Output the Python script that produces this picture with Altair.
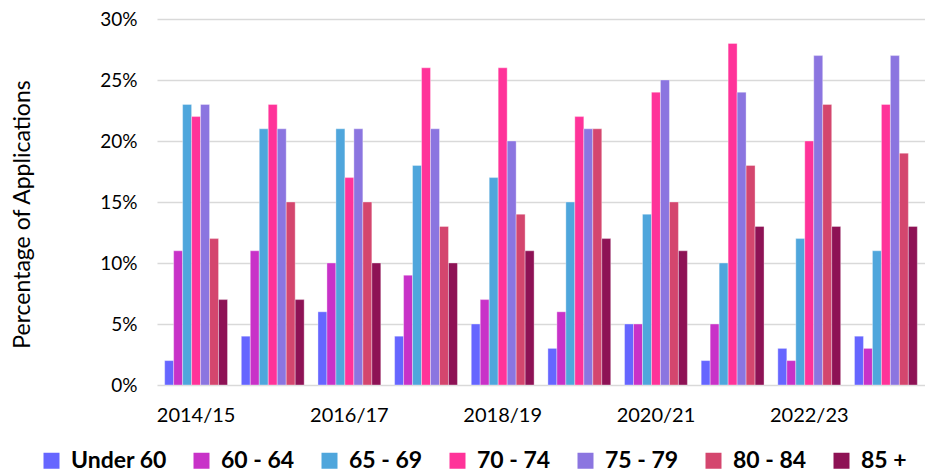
import altair as alt
import pandas as pd

years = ["2014/15", "2015/16", "2016/17", "2017/18", "2018/19",
         "2019/20", "2020/21", "2021/22", "2022/23", "2023/24"]
shown_years = ["2014/15", "2016/17", "2018/19", "2020/21", "2022/23"]
groups = ["Under 60", "60 - 64", "65 - 69", "70 - 74", "75 - 79", "80 - 84", "85 +"]
colors = ["#6666FF", "#C832C8", "#4FA6DC", "#FF3399", "#8B75E0", "#D4466E", "#8E1255"]

under_60 = [2, 4, 6, 4, 5, 3, 5, 2, 3, 4]
age_60_64 = [11, 11, 10, 9, 7, 6, 5, 5, 2, 3]
age_65_69 = [23, 21, 21, 18, 17, 15, 14, 10, 12, 11]
age_70_74 = [22, 23, 17, 26, 26, 22, 24, 28, 20, 23]
age_75_79 = [23, 21, 21, 21, 20, 21, 25, 24, 27, 27]
age_80_84 = [12, 15, 15, 13, 14, 21, 15, 18, 23, 19]
age_85_plus = [7, 7, 10, 10, 11, 12, 11, 13, 13, 13]

series = [under_60, age_60_64, age_65_69, age_70_74, age_75_79, age_80_84, age_85_plus]
rows = []
for g, vals in zip(groups, series):
    for y, v in zip(years, vals):
        rows.append({"year": y, "group": g, "value": v / 100})
df = pd.DataFrame(rows)

FONT = "Lato"

chart = alt.Chart(df).mark_bar(stroke="white", strokeWidth=0.5, strokeOpacity=0.7).encode(
    x=alt.X("year:N", sort=years,
            scale=alt.Scale(paddingInner=0.18, paddingOuter=0.1),
            axis=alt.Axis(values=shown_years, labelAngle=0, title=None, domain=False,
                          ticks=False, labelPadding=20, labelFontSize=20,
                          labelColor="black", labelFont=FONT, grid=False)),
    xOffset=alt.XOffset("group:N", sort=groups,
                        scale=alt.Scale(paddingInner=0, paddingOuter=0)),
    y=alt.Y("value:Q", scale=alt.Scale(domain=[0, 0.3]),
            axis=alt.Axis(format=".0%", values=[0, 0.05, 0.1, 0.15, 0.2, 0.25, 0.3],
                          title="Percentage of Applications", titleFont=FONT,
                          titleFontSize=23, titleFontWeight="normal", titleColor="black",
                          titleX=-123, titleY=195, titleAngle=-90, titleBaseline="bottom",
                          titleAlign="center",
                          labelFont=FONT, labelFontSize=19, labelColor="black",
                          labelPadding=20, domain=False, ticks=False,
                          gridColor="#d9d9d9", gridWidth=1.6)),
    color=alt.Color("group:N", sort=groups,
                    scale=alt.Scale(domain=groups, range=colors),
                    legend=alt.Legend(orient="none", legendX=-117, legendY=430,
                                      direction="horizontal", title=None,
                                      symbolType="square", symbolSize=256,
                                      symbolStrokeWidth=0, symbolOpacity=1,
                                      labelFont=FONT, labelFontSize=23,
                                      labelFontWeight="bold", labelColor="black",
                                      labelOffset=8, columnPadding=23, padding=0,
                                      labelLimit=300)),
).properties(
    width=768, height=366,
    padding={"left": 149, "top": 11, "right": 0, "bottom": 87},
    autosize=alt.AutoSizeParams(type="none"),
).configure_view(stroke=None)

chart.save("out.html", embed_options={"renderer": "svg", "actions": False})
